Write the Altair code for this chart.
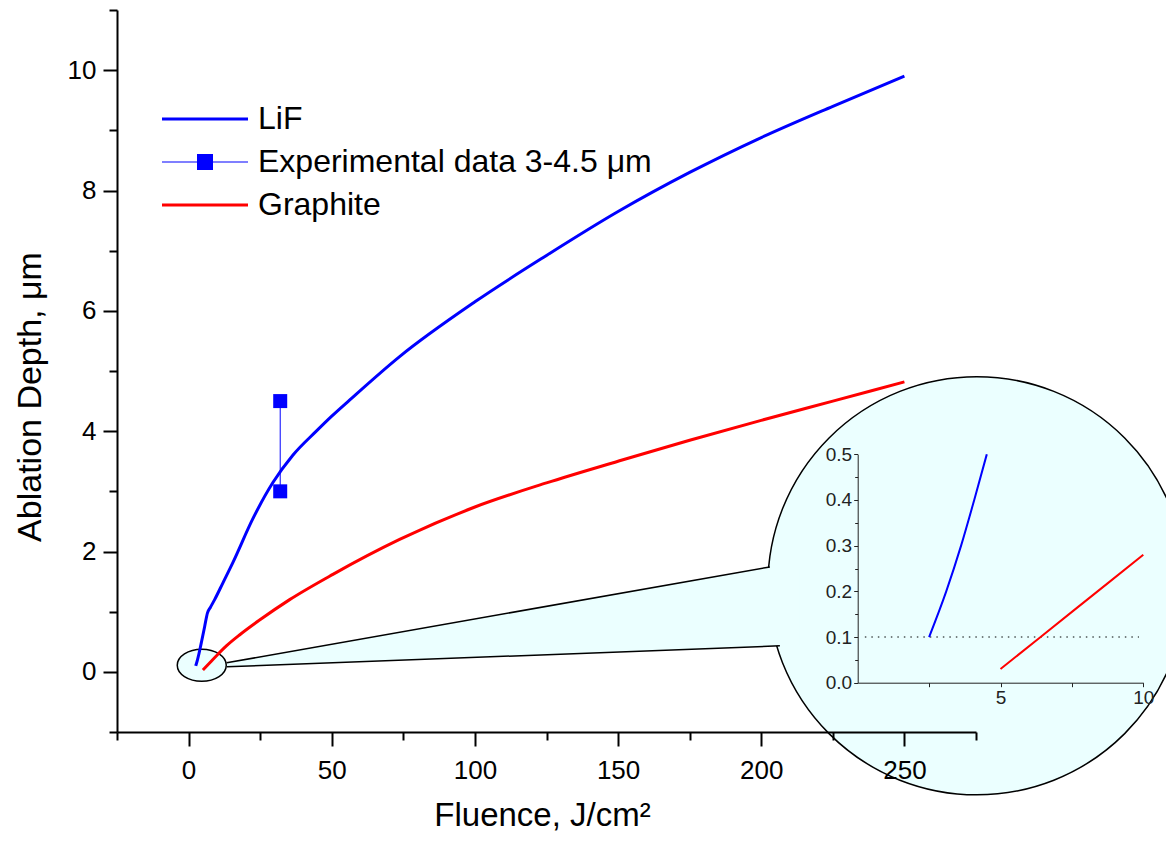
import altair as alt
import pandas as pd

# ---------------- data ----------------
lif_fluence = [2.5, 3.1, 3.62, 4.08, 4.52, 5.6, 6.6, 7.6, 9.1, 12.0, 15.5, 22.5,
               29.5, 36.4, 44.6, 50, 56.3, 73.7, 100, 125, 150, 175, 200, 225, 250]
lif_depth = [0.1, 0.2, 0.3, 0.4, 0.5, 0.75, 0.98, 1.07, 1.2, 1.48, 1.82, 2.55,
             3.15, 3.6, 4.0, 4.25, 4.52, 5.24, 6.15, 6.92, 7.65, 8.3, 8.88, 9.4, 9.9]

graphite_fluence = [5, 7.5, 10, 13.2, 18, 24.8, 35.3, 50.4, 73.7, 100, 125, 150,
                    175, 200, 225, 250]
graphite_depth = [0.03, 0.155, 0.28, 0.43, 0.62, 0.86, 1.2, 1.62, 2.2, 2.74, 3.14,
                  3.5, 3.85, 4.18, 4.5, 4.82]

exp_fluence = [32.0, 32.0]
exp_depth = [3.0, 4.5]

legend_labels = ["LiF", "Experimental data 3-4.5 \u03bcm", "Graphite"]
legend_colors = ["#0000ff", "#0000ff", "#ff0000"]

x_ticks = [-25, 0, 25, 50, 75, 100, 125, 150, 175, 200, 225, 250, 275]
y_ticks = [-1, 0, 1, 2, 3, 4, 5, 6, 7, 8, 9, 10, 11]
inset_x_ticks = [2.5, 5, 7.5, 10]
inset_y_ticks = [0, 0.05, 0.1, 0.15, 0.2, 0.25, 0.3, 0.35, 0.4, 0.45, 0.5]

# zoom annotation, in data units of the main axes
spot_f = [4.6]
spot_d = [0.11]
lens_f = [275.3]
lens_d = [1.43]
wedge_f = [13.3, 203.0, 206.5, 213.5]
wedge_top = [0.15, 1.744, 1.744, 1.744]
wedge_bottom = [0.083, 0.426, 0.432, 0.432]
edge_id = ["upper", "upper", "lower", "lower"]
edge_f = [13.3, 203.0, 13.3, 206.5]
edge_d = [0.15, 1.744, 0.083, 0.432]

threshold_d = [0.1]
threshold_from = [0.25]
threshold_to = [9.85]

# ---------------- tables ----------------
curves = pd.concat([
    pd.DataFrame({"series": "LiF", "fluence": lif_fluence, "depth": lif_depth}),
    pd.DataFrame({"series": "Graphite", "fluence": graphite_fluence, "depth": graphite_depth}),
], ignore_index=True)
exp_df = pd.DataFrame({"fluence": exp_fluence, "depth": exp_depth})
legend_df = pd.DataFrame({"series": legend_labels})
spot_df = pd.DataFrame({"fluence": spot_f, "depth": spot_d})
lens_df = pd.DataFrame({"fluence": lens_f, "depth": lens_d})
wedge_df = pd.DataFrame({"fluence": wedge_f, "depth": wedge_top, "depth2": wedge_bottom})
edge_df = pd.DataFrame({"edge": edge_id, "fluence": edge_f, "depth": edge_d})
thr_df = pd.DataFrame({"fluence": threshold_from, "fluence2": threshold_to, "depth": threshold_d})

FONT = "Liberation Sans, Arial, sans-serif"
LENS_FILL = "#EBFFFF"
BLUE = "#0000ff"
RED = "#ff0000"

# ---------------- main axes ----------------
x_axis = alt.Axis(
    values=x_ticks, labelExpr="datum.value % 50 === 0 ? format(datum.value, 'd') : ''",
    tickSize={"condition": {"test": "datum.value % 50 === 0", "value": 14}, "value": 8},
    tickWidth=2, domainWidth=2, domainColor="black", tickColor="black",
    labelFont=FONT, labelFontSize=26, labelColor="black", labelPadding=11,
    labelOverlap=False, labelFlush=False, labelBound=False, grid=False,
    title="Fluence, J/cm\u00b2", titleFont=FONT, titleFontSize=33, titleFontWeight="normal",
    titleColor="black", titleX=425, titleY=93, titleAlign="center", titleBaseline="alphabetic",
    zindex=1,
)
y_axis = alt.Axis(
    values=y_ticks, labelExpr="datum.value % 2 === 0 ? format(datum.value, 'd') : ''",
    tickSize={"condition": {"test": "datum.value % 2 === 0", "value": 14}, "value": 8},
    tickWidth=2, domainWidth=2, domainColor="black", tickColor="black",
    labelFont=FONT, labelFontSize=26, labelColor="black", labelPadding=7,
    labelOverlap=False, labelFlush=False, labelBound=False, grid=False,
    title="Ablation Depth, \u03bcm", titleFont=FONT, titleFontSize=34, titleFontWeight="normal",
    titleColor="black", titleAngle=270, titleX=-77, titleY=386.5, titleAlign="center",
    titleBaseline="alphabetic", zindex=1,
)
x_scale = alt.Scale(domain=[-25, 275], nice=False, zero=False)
y_scale = alt.Scale(domain=[-1, 11], nice=False, zero=False)
X = alt.X("fluence:Q", scale=x_scale, axis=x_axis)
Y = alt.Y("depth:Q", scale=y_scale, axis=y_axis)

lens = alt.Chart(lens_df).mark_point(
    shape="circle", size=174724, filled=True, fill=LENS_FILL, stroke="black",
    strokeWidth=1.5, opacity=1,
).encode(x=X, y=Y)

wedge = alt.Chart(wedge_df).mark_area(color=LENS_FILL, opacity=1).encode(
    x=X, y=Y, y2="depth2:Q")

edges = alt.Chart(edge_df).mark_line(color="black", strokeWidth=1.5).encode(
    x=X, y=Y, detail="edge:N")

spot = alt.Chart(spot_df).mark_point(
    shape="M-1,0A1,0.653,0,1,0,1,0A1,0.653,0,1,0,-1,0Z", size=2401, filled=True,
    fill=LENS_FILL, stroke="black", strokeWidth=1.5, opacity=1,
).encode(x=X, y=Y)

lif_line = alt.Chart(curves).transform_filter(alt.datum.series == "LiF").mark_line(
    color=BLUE, strokeWidth=3, interpolate="monotone").encode(x=X, y=Y)
gr_line = alt.Chart(curves).transform_filter(alt.datum.series == "Graphite").mark_line(
    color=RED, strokeWidth=3, interpolate="monotone").encode(x=X, y=Y)

exp_line = alt.Chart(exp_df).mark_line(color=BLUE, strokeWidth=1).encode(x=X, y=Y)
exp_pts = alt.Chart(exp_df).mark_square(color=BLUE, size=196, opacity=1).encode(x=X, y=Y)

# legend symbols: 32 px symbol box, lines reach 43 px either side of the centre
legend_paths = [
    "M-2.6875,-0.094H2.6875V0.094H-2.6875Z",
    "M-2.6875,-0.031H2.6875V0.031H-2.6875Z M-0.5,-0.5H0.5V0.5H-0.5Z",
    "M-2.6875,-0.094H2.6875V0.094H-2.6875Z",
]
leg = alt.Legend(
    orient="none", legendX=72, legendY=93, title=None, labelFont=FONT, labelFontSize=32,
    labelColor="black", symbolSize=1024, symbolStrokeWidth=0, symbolOpacity=1,
    labelOffset=37, rowPadding=11, padding=0, labelLimit=1000,
)
legend_layer = alt.Chart(legend_df).mark_point(filled=True, opacity=1, strokeWidth=0).encode(
    x=alt.value(-3000), y=alt.value(-3000),
    color=alt.Color("series:N", scale=alt.Scale(domain=legend_labels, range=legend_colors), legend=leg),
    shape=alt.Shape("series:N", scale=alt.Scale(domain=legend_labels, range=legend_paths), legend=leg),
)

main = alt.layer(lens, wedge, edges, spot, lif_line, gr_line, exp_line, exp_pts, legend_layer)

# ---------------- inset (magnified view) ----------------
ix_scale = alt.Scale(domain=[0, 10], range=[740.7, 1026.3], nice=False, zero=False)
iy_scale = alt.Scale(domain=[0, 0.5], range=[672.7, 444.3], nice=False, zero=False)
ix_axis = alt.Axis(
    orient="bottom", offset=-49.3, values=inset_x_ticks,
    labelExpr="datum.value % 5 === 0 ? format(datum.value, 'd') : ''",
    tickSize=4, tickWidth=1, domainWidth=1, domainColor="#222", tickColor="#222",
    labelFont=FONT, labelFontSize=19, labelColor="#222", labelPadding=2,
    labelOverlap=False, labelFlush=False, labelBound=False, grid=False, title=None, zindex=1,
)
iy_axis = alt.Axis(
    orient="left", offset=-740.7, values=inset_y_ticks,
    labelExpr="round(datum.value * 100) % 10 === 0 ? format(datum.value, '.1f') : ''",
    tickSize={"condition": {"test": "round(datum.value * 100) % 10 === 0", "value": 4}, "value": 3},
    tickWidth=1, domainWidth=1, domainColor="#222", tickColor="#222",
    labelFont=FONT, labelFontSize=19, labelColor="#222", labelPadding=2,
    labelOverlap=False, labelFlush=False, labelBound=False, grid=False, title=None, zindex=1,
)
IX = alt.X("fluence:Q", scale=ix_scale, axis=ix_axis)
IY = alt.Y("depth:Q", scale=iy_scale, axis=iy_axis)

thr = alt.Chart(thr_df).mark_rule(color="black", strokeWidth=1.2, strokeDash=[1.5, 5]).encode(
    x=IX, x2="fluence2:Q", y=IY)
in_lif = alt.Chart(curves).transform_filter(
    (alt.datum.series == "LiF") & (alt.datum.depth <= 0.5)
).mark_line(color=BLUE, strokeWidth=2, interpolate="monotone").encode(x=IX, y=IY)
in_gr = alt.Chart(curves).transform_filter(
    (alt.datum.series == "Graphite") & (alt.datum.fluence <= 10)
).mark_line(color=RED, strokeWidth=2, interpolate="monotone").encode(x=IX, y=IY)

inset = alt.layer(thr, in_lif, in_gr)

chart = alt.layer(main, inset).resolve_scale(x="independent", y="independent").properties(
    width=859, height=722,
    padding={"left": 109, "top": 2, "right": 190, "bottom": 102},
    autosize=alt.AutoSizeParams(type="none"),
    background="white",
).configure_view(stroke=None, strokeWidth=0)

chart.save("out.html", embed_options={"renderer": "svg", "actions": False})
